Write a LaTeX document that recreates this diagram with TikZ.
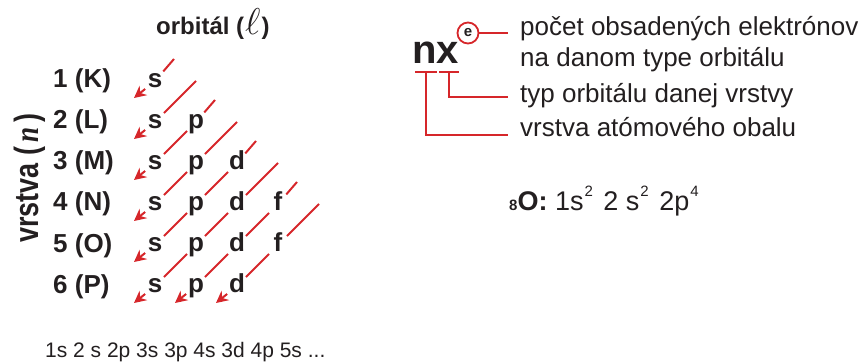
\documentclass[tikz,border=0pt]{standalone}
\usepackage{fontspec}
\setmainfont{Liberation Sans}
\newfontfamily\serifface{Liberation Serif}
\usetikzlibrary{arrows.meta,calc}

\definecolor{linered}{RGB}{214,38,42}
\definecolor{ink}{RGB}{35,31,32}

\tikzset{
  shellab/.style={anchor=base west, inner sep=0pt, text=ink,
    font=\fontsize{26}{30}\selectfont\bfseries},
  orb/.style={circle, inner sep=0pt, minimum size=25pt, text=ink,
    text height=13.5pt, text depth=0pt,
    font=\fontsize{26}{30}\selectfont\bfseries},
  diag/.style={draw=linered, line width=2pt,
    -{Stealth[length=12pt,width=12pt,inset=4pt]}},
  bracket/.style={draw=linered, line width=2.2pt},
  lab/.style={anchor=base west, inner sep=0pt, text=ink,
    font=\fontsize{26}{30}\selectfont},
}
\newcommand{\upidx}[1]{\kern1pt\raisebox{14pt}{\fontsize{15}{15}\selectfont #1}\kern3pt}

\begin{document}
\begin{tikzpicture}[x=1pt,y=-1pt]
\useasboundingbox (0,0) rectangle (866,363);

% ---- headings ----
\node[anchor=base west, inner sep=0pt, text=ink,
      font=\fontsize{24}{28}\selectfont\bfseries] (orbhead) at (156,35)
  {orbitál (\kern1pt\scalebox{1.5}{$\ell$}\kern1pt)};
\node[anchor=base west, inner sep=0pt, text=ink, rotate=90,
      font=\fontsize{27}{30}\selectfont\bfseries] (shellhead) at (38,243)
  {\scalebox{1}[1.25]{vrstva (\,{\serifface\bfseries\itshape n}\,)}};

% ---- shell labels ----
\node[shellab] (r1) at (53,88)  {1 (K)};
\node[shellab] (r2) at (53,129) {2 (L)};
\node[shellab] (r3) at (53,170) {3 (M)};
\node[shellab] (r4) at (53,211) {4 (N)};
\node[shellab] (r5) at (53,252) {5 (O)};
\node[shellab] (r6) at (53,293) {6 (P)};

% ---- orbital letters (columns s p d f, rows 1..6) ----
\node[orb] (s1) at (155,81)  {s};
\node[orb] (s2) at (155,122) {s};
\node[orb] (p2) at (196,122) {p};
\node[orb] (s3) at (155,163) {s};
\node[orb] (p3) at (196,163) {p};
\node[orb] (d3) at (237,163) {d};
\node[orb] (s4) at (155,204) {s};
\node[orb] (p4) at (196,204) {p};
\node[orb] (d4) at (237,204) {d};
\node[orb] (f4) at (278,204) {f};
\node[orb] (s5) at (155,245) {s};
\node[orb] (p5) at (196,245) {p};
\node[orb] (d5) at (237,245) {d};
\node[orb] (f5) at (278,245) {f};
\node[orb] (s6) at (155,286) {s};
\node[orb] (p6) at (196,286) {p};
\node[orb] (d6) at (237,286) {d};

% upper ends of the diagonals
\coordinate (t1) at ($(s1)+(19,-22)$);
\coordinate (t2) at (196,81);
\coordinate (t3) at ($(p2)+(19,-22)$);
\coordinate (t4) at (237,122);
\coordinate (t5) at ($(d3)+(19,-22)$);
\coordinate (t6) at (278,163);
\coordinate (t7) at ($(f4)+(19,-22)$);
\coordinate (t8) at (319,204);
% arrow tips
\coordinate (a1) at ($(s1)+(-21,17)$);
\coordinate (a2) at ($(s2)+(-21,17)$);
\coordinate (a3) at ($(s3)+(-21,17)$);
\coordinate (a4) at ($(s4)+(-21,17)$);
\coordinate (a5) at ($(s5)+(-21,17)$);
\coordinate (a6) at ($(s6)+(-21,17)$);
\coordinate (a7) at ($(p6)+(-21,17)$);
\coordinate (a8) at ($(d6)+(-21,17)$);

% filling order diagonals
\draw[diag] (t1) -- (s1) -- (a1);
\draw[diag] (t2) -- (s2) -- (a2);
\draw[diag] (t3) -- (p2) -- (s3) -- (a3);
\draw[diag] (t4) -- (p3) -- (s4) -- (a4);
\draw[diag] (t5) -- (d3) -- (p4) -- (s5) -- (a5);
\draw[diag] (t6) -- (d4) -- (p5) -- (s6) -- (a6);
\draw[diag] (t7) -- (f4) -- (d5) -- (p6) -- (a7);
\draw[diag] (t8) -- (f5) -- (d6) -- (a8);

% ---- sequence ----
\node[anchor=base west, inner sep=0pt, text=ink,
      font=\fontsize{21}{24}\selectfont] (seq) at (45,357)
  {1s 2 s 2p 3s 3p 4s 3d 4p 5s ...};

% ---- notation legend ----
\node[anchor=base west, inner sep=0pt, text=ink,
      font=\fontsize{40}{44}\selectfont\bfseries] (nx) at (412,64) {nx};
\node[circle, draw=linered, line width=1.8pt, minimum size=21pt, inner sep=0pt,
      text=ink, text height=8pt, text depth=0pt,
      font=\fontsize{15}{16}\selectfont\bfseries] (ecirc) at (468,33) {e};

\node[lab] (l1) at (520,36)  {počet obsadených elektrónov};
\node[lab] (l2) at (520,67)  {na danom type orbitálu};
\node[lab] (l3) at (520,103) {typ orbitálu danej vrstvy};
\node[lab] (l4) at (520,137) {vrstva atómového obalu};

\coordinate (c1) at (508,33);
\coordinate (c3) at (508,97);
\coordinate (c4) at (508,135);
\coordinate (nbl) at (415,72);
\coordinate (nbr) at (437,72);
\coordinate (nbm) at (426,72);
\coordinate (xbl) at (439,72);
\coordinate (xbr) at (459,72);
\coordinate (xbm) at (449,72);

\draw[bracket, line width=1.8pt] (ecirc.east) -- (c1);
\draw[bracket] (nbl) -- (nbr);
\draw[bracket] (xbl) -- (xbr);
\draw[bracket] (nbm) |- (c4);
\draw[bracket] (xbm) |- (c3);

% ---- oxygen example ----
\node[anchor=base west, inner sep=0pt, text=ink,
      font=\fontsize{27}{30}\selectfont] (oxy) at (509,211)
  {{\fontsize{15}{16}\selectfont\bfseries 8}\textbf{O:}
   1s\upidx{2}\ 2 s\upidx{2}\ 2p\upidx{4}};
\end{tikzpicture}
\end{document}
